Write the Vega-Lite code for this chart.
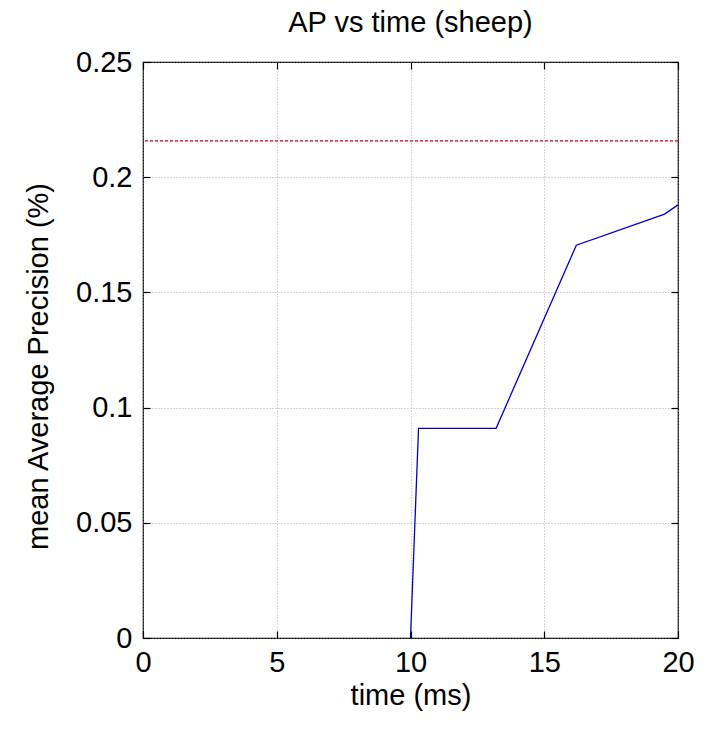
{
  "$schema": "https://vega.github.io/schema/vega-lite/v6.json",
  "autosize": "none",
  "width": 535,
  "height": 576,
  "padding": {"left": 143, "top": 62, "right": 28, "bottom": 93},
  "background": "white",
  "title": {"text": "AP vs time (sheep)", "font": "Liberation Sans", "fontSize": 29, "fontWeight": "normal", "color": "black", "offset": 10, "anchor": "middle"},
  "config": {
    "view": {"stroke": "black", "strokeWidth": 1.2},
    "axis": {"labelFont": "Liberation Sans", "titleFont": "Liberation Sans", "labelFontSize": 29, "titleFontSize": 29, "titleFontWeight": "normal", "labelColor": "black", "titleColor": "black", "labelFlush": false, "labelOverlap": false, "domain": false, "tickColor": "black", "tickSize": -7, "tickWidth": 1.2, "gridColor": "#999", "gridDash": [1, 2], "gridWidth": 0.8, "gridOpacity": 1}
  },
  "datasets": {
    "curve": [
      {"time": 10.0, "ap": 0.0},
      {"time": 10.3, "ap": 0.091},
      {"time": 13.2, "ap": 0.091},
      {"time": 16.2, "ap": 0.1705},
      {"time": 19.5, "ap": 0.184},
      {"time": 20.0, "ap": 0.188}
    ],
    "ref": [{"ap": 0.2158}]
  },
  "layer": [
    {
      "data": {"name": "curve"},
      "mark": {"type": "line", "color": "#0000cc", "strokeWidth": 1.3},
      "encoding": {
        "x": {"field": "time", "type": "quantitative", "scale": {"domain": [0, 20], "nice": false}, "axis": {"orient": "bottom", "values": [0, 5, 10, 15, 20], "title": "time (ms)", "labelPadding": 17, "titlePadding": 4}},
        "y": {"field": "ap", "type": "quantitative", "scale": {"domain": [0, 0.25], "nice": false}, "axis": {"orient": "left", "values": [0, 0.05, 0.1, 0.15, 0.2, 0.25], "format": "~g", "title": "mean Average Precision (%)", "labelPadding": 18, "titlePadding": 22, "titleY": 304}}
      }
    },
    {
      "data": {"name": "ref"},
      "mark": {"type": "rule", "color": "#cc0000", "strokeDash": [3, 2], "strokeWidth": 1.2},
      "encoding": {
        "y": {"field": "ap", "type": "quantitative", "axis": {"orient": "right", "values": [0, 0.05, 0.1, 0.15, 0.2, 0.25], "labels": false, "title": null, "grid": false}}
      }
    },
    {
      "data": {"name": "ref"},
      "mark": {"type": "rule", "opacity": 0},
      "encoding": {
        "x": {"datum": 0, "type": "quantitative", "axis": {"orient": "top", "values": [0, 5, 10, 15, 20], "labels": false, "title": null, "grid": false}}
      }
    }
  ],
  "resolve": {"axis": {"x": "independent", "y": "independent"}}
}
